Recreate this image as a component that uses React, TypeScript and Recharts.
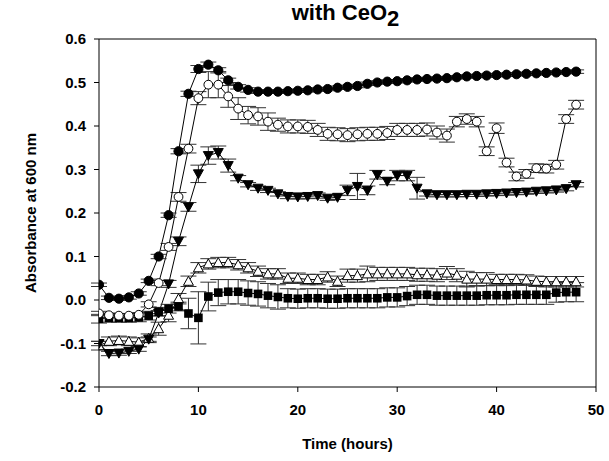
import { ComposedChart, Line, XAxis, YAxis, ErrorBar, ReferenceLine } from "recharts";

// time in hours, one reading per hour
const hours = Array.from({ length: 49 }, (_, i) => i);

const filledCircle = [
  0.035, 0.005, 0.003, 0.006, 0.015, 0.044, 0.1, 0.195, 0.342, 0.474, 0.531, 0.541, 0.528, 0.505, 0.49, 0.483,
  0.479, 0.479, 0.479, 0.48, 0.481, 0.482, 0.484, 0.485, 0.488, 0.49, 0.492, 0.497, 0.5, 0.502, 0.503, 0.505,
  0.507, 0.508, 0.509, 0.51, 0.512, 0.514, 0.515, 0.516, 0.517, 0.518, 0.519, 0.52, 0.521, 0.522, 0.523, 0.524,
  0.525,
];
const filledCircleErr = [
  0.004, 0.004, 0.004, 0.004, 0.004, 0.004, 0.005, 0.005, 0.006, 0.006, 0.008, 0.006, 0.006, 0.005, 0.005, 0.005,
  0.004, 0.004, 0.004, 0.004, 0.004, 0.004, 0.004, 0.004, 0.004, 0.004, 0.004, 0.004, 0.004, 0.004, 0.004, 0.004,
  0.004, 0.004, 0.004, 0.004, 0.004, 0.004, 0.004, 0.004, 0.004, 0.004, 0.004, 0.004, 0.004, 0.004, 0.004, 0.004,
  0.004,
];

const openCircle = [
  -0.031, -0.035, -0.036, -0.036, -0.034, -0.01, 0.039, 0.122, 0.237, 0.348, 0.464, 0.495, 0.495, 0.468, 0.44,
  0.425, 0.422, 0.41, 0.403, 0.399, 0.399, 0.398, 0.391, 0.382, 0.381, 0.379, 0.381, 0.382, 0.382, 0.384, 0.391,
  0.391, 0.391, 0.392, 0.385, 0.378, 0.41, 0.416, 0.41, 0.342, 0.395, 0.316, 0.284, 0.29, 0.303, 0.302, 0.311,
  0.416, 0.449,
];
const openCircleErr = [
  0.005, 0.005, 0.005, 0.005, 0.005, 0.006, 0.006, 0.008, 0.01, 0.01, 0.015, 0.03, 0.03, 0.025, 0.025, 0.02,
  0.02, 0.02, 0.015, 0.015, 0.015, 0.015, 0.015, 0.015, 0.015, 0.015, 0.015, 0.015, 0.015, 0.015, 0.015, 0.015,
  0.015, 0.015, 0.015, 0.015, 0.012, 0.012, 0.012, 0.01, 0.012, 0.01, 0.01, 0.01, 0.01, 0.01, 0.01, 0.01, 0.01,
];

const filledTri = [
  -0.1, -0.123, -0.122, -0.118, -0.113, -0.09, -0.03, 0.037, 0.135, 0.214, 0.29, 0.332, 0.339, 0.309, 0.28,
  0.265, 0.257, 0.252, 0.244, 0.238, 0.237, 0.238, 0.24, 0.234, 0.236, 0.252, 0.261, 0.252, 0.288, 0.273, 0.286,
  0.286, 0.257, 0.244, 0.242, 0.242, 0.242, 0.243, 0.243, 0.244, 0.245, 0.246, 0.247, 0.248, 0.25, 0.251, 0.253,
  0.256, 0.265,
];
const filledTriErr = [
  0.005, 0.005, 0.005, 0.005, 0.005, 0.005, 0.006, 0.008, 0.01, 0.01, 0.02, 0.02, 0.015, 0.015, 0.006, 0.005,
  0.005, 0.005, 0.005, 0.005, 0.005, 0.005, 0.006, 0.005, 0.005, 0.012, 0.03, 0.01, 0.01, 0.008, 0.012, 0.012,
  0.025, 0.005, 0.005, 0.005, 0.005, 0.005, 0.005, 0.005, 0.005, 0.005, 0.005, 0.005, 0.005, 0.005, 0.005, 0.005,
  0.005,
];

const openTri = [
  -0.105, -0.095, -0.093, -0.095, -0.097, -0.088, -0.066, -0.035, 0.003, 0.043, 0.074, 0.083, 0.086, 0.086, 0.081,
  0.074, 0.066, 0.06, 0.06, 0.05, 0.05, 0.047, 0.047, 0.053, 0.043, 0.056, 0.056, 0.06, 0.06, 0.06, 0.06, 0.06,
  0.058, 0.058, 0.057, 0.062, 0.057, 0.048, 0.048, 0.048, 0.047, 0.047, 0.047, 0.046, 0.043, 0.042, 0.042, 0.042,
  0.042,
];
const openTriErr = [
  0.01, 0.01, 0.01, 0.01, 0.01, 0.01, 0.015, 0.015, 0.012, 0.012, 0.012, 0.012, 0.012, 0.012, 0.012, 0.012,
  0.012, 0.012, 0.012, 0.012, 0.012, 0.012, 0.012, 0.012, 0.012, 0.015, 0.015, 0.018, 0.015, 0.015, 0.015, 0.015,
  0.015, 0.015, 0.015, 0.015, 0.015, 0.018, 0.015, 0.015, 0.012, 0.012, 0.012, 0.012, 0.012, 0.012, 0.012, 0.012,
  0.012,
];

const square = [
  -0.043, -0.041, -0.041, -0.041, -0.04, -0.036, -0.027, -0.02, -0.015, -0.031, -0.041, 0.008, 0.017, 0.019,
  0.019, 0.016, 0.014, 0.01, 0.007, 0.004, 0.003, 0.004, 0.004, 0.003, 0.003, 0.004, 0.004, 0.004, 0.004, 0.006,
  0.006, 0.009, 0.012, 0.012, 0.01, 0.01, 0.01, 0.01, 0.01, 0.011, 0.011, 0.011, 0.012, 0.012, 0.012, 0.012,
  0.017, 0.018, 0.018,
];
const squareErr = [
  0.01, 0.01, 0.01, 0.01, 0.01, 0.01, 0.01, 0.01, 0.01, 0.035, 0.06, 0.033, 0.03, 0.028, 0.028, 0.028, 0.028,
  0.028, 0.028, 0.022, 0.022, 0.022, 0.022, 0.022, 0.022, 0.022, 0.022, 0.022, 0.022, 0.022, 0.022, 0.022, 0.022,
  0.022, 0.022, 0.022, 0.022, 0.022, 0.022, 0.022, 0.022, 0.022, 0.022, 0.022, 0.022, 0.022, 0.022, 0.022, 0.022,
];

const xTicks = [0, 10, 20, 30, 40, 50];
const yTicks = [-0.2, -0.1, 0, 0.1, 0.2, 0.3, 0.4, 0.5, 0.6];

const rows = hours.map((t, i) => ({
  t,
  fc: filledCircle[i],
  fcErr: filledCircleErr[i],
  oc: openCircle[i],
  ocErr: openCircleErr[i],
  ft: filledTri[i],
  ftErr: filledTriErr[i],
  ot: openTri[i],
  otErr: openTriErr[i],
  sq: square[i],
  sqErr: squareErr[i],
}));

const FONT = "'Liberation Sans', Arial, sans-serif";
const tickStyle = { fill: "#000", fontSize: 15, fontWeight: "bold", fontFamily: FONT };

// plot box: left 99, top 39, bottom 387
const PLOT_TOP = 39;
const PLOT_BOTTOM = 387;

const dotFilledCircle = (p: any) => <circle key={p.index} cx={p.cx} cy={p.cy} r={4.6} fill="#000" stroke="#000" />;
const dotOpenCircle = (p: any) => (
  <circle key={p.index} cx={p.cx} cy={p.cy} r={4.4} fill="#fff" stroke="#000" strokeWidth={1} />
);
const dotFilledTri = (p: any) => (
  <polygon
    key={p.index}
    points={`${p.cx - 5},${p.cy - 4} ${p.cx + 5},${p.cy - 4} ${p.cx},${p.cy + 5}`}
    fill="#000"
    stroke="#000"
  />
);
const dotOpenTri = (p: any) => (
  <polygon
    key={p.index}
    points={`${p.cx - 5},${p.cy + 4} ${p.cx + 5},${p.cy + 4} ${p.cx},${p.cy - 5}`}
    fill="#fff"
    stroke="#000"
  />
);
const dotSquare = (p: any) => (
  <rect key={p.index} x={p.cx - 4.3} y={p.cy - 4.3} width={8.6} height={8.6} fill="#000" />
);

function series(key: string, dot: any) {
  return (
    <Line
      key={key}
      type="linear"
      dataKey={key}
      stroke="#000"
      strokeWidth={1}
      dot={dot}
      activeDot={false}
      isAnimationActive={false}
    >
      <ErrorBar dataKey={key + "Err"} direction="y" width={8} stroke="#333" strokeWidth={1} />
    </Line>
  );
}

const yLabel = () => {
  const cx = 30;
  const cy = (PLOT_TOP + PLOT_BOTTOM) / 2;
  return (
    <text
      x={cx}
      y={cy}
      transform={`rotate(-90 ${cx} ${cy})`}
      textAnchor="middle"
      dominantBaseline="central"
      fill="#000"
      fontSize={15}
      fontWeight="bold"
      fontFamily={FONT}
    >
      Absorbance at 600 nm
    </text>
  );
};

export default function App() {
  return (
    <div style={{ position: "absolute", left: 0, top: 0, width: 609, height: 461, background: "#fff", fontFamily: FONT }}>
      <div
        style={{
          position: "absolute",
          left: 0,
          width: 609,
          top: 0,
          paddingLeft: 82,
          boxSizing: "border-box",
          textAlign: "center",
          fontWeight: "bold",
          fontSize: 22,
          lineHeight: "26px",
          color: "#000",
        }}
      >
        with CeO<sub style={{ fontSize: 22, verticalAlign: "-6px", lineHeight: 0 }}>2</sub>
      </div>
      <ComposedChart width={609} height={461} data={rows} margin={{ top: PLOT_TOP, right: 13, bottom: 0, left: 0 }}>
        <XAxis
          dataKey="t"
          type="number"
          domain={[0, 50]}
          ticks={xTicks}
          allowDataOverflow
          height={461 - PLOT_BOTTOM}
          tick={tickStyle}
          tickSize={5}
          tickMargin={12}
          stroke="#000"
          label={{
            value: "Time (hours)",
            position: "insideBottom",
            offset: 12,
            style: { fill: "#000", fontSize: 15, fontWeight: "bold", fontFamily: FONT },
          }}
        />
        <YAxis
          type="number"
          domain={[-0.2, 0.6]}
          ticks={yTicks}
          allowDataOverflow
          width={99}
          tick={tickStyle}
          tickSize={5}
          tickMargin={8}
          stroke="#000"
          tickFormatter={(v: number) => v.toFixed(1)}
          label={{ value: "Absorbance at 600 nm", content: yLabel }}
        />
        <ReferenceLine y={0.6} stroke="#000" />
        <ReferenceLine x={50} stroke="#000" />
        {series("ot", dotOpenTri)}
        {series("ft", dotFilledTri)}
        {series("sq", dotSquare)}
        {series("oc", dotOpenCircle)}
        {series("fc", dotFilledCircle)}
      </ComposedChart>
    </div>
  );
}
